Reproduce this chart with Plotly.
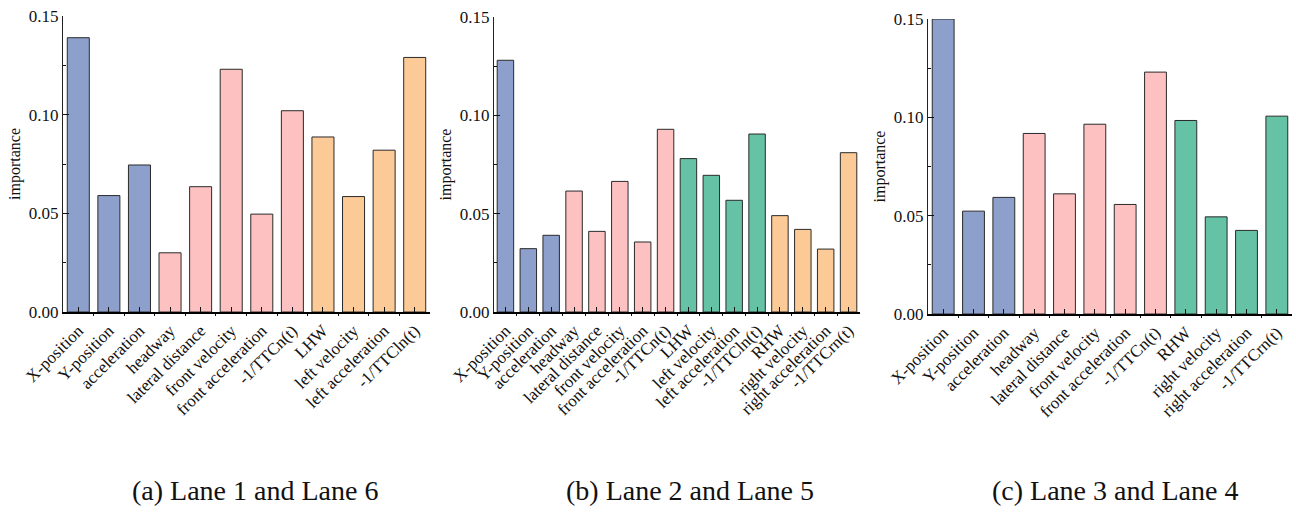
import plotly.graph_objects as go

# Feature names per lane group
features_a = ["X-position", "Y-position", "acceleration", "headway", "lateral distance",
              "front velocity", "front acceleration", "-1/TTCn(t)", "LHW", "left velocity",
              "left acceleration", "-1/TTCln(t)"]
features_b = ["X-position", "Y-position", "acceleration", "headway", "lateral distance",
              "front velocity", "front acceleration", "-1/TTCn(t)", "LHW", "left velocity",
              "left acceleration", "-1/TTCln(t)", "RHW", "right velocity",
              "right acceleration", "-1/TTCrn(t)"]
features_c = ["X-position", "Y-position", "acceleration", "headway", "lateral distance",
              "front velocity", "front acceleration", "-1/TTCn(t)", "RHW", "right velocity",
              "right acceleration", "-1/TTCrn(t)"]

# Feature importances
importance_a = [0.139, 0.059, 0.0745, 0.030, 0.0635, 0.123, 0.0496, 0.102,
                0.0887, 0.0585, 0.082, 0.129]
importance_b = [0.128, 0.0322, 0.039, 0.0615, 0.041, 0.0664, 0.0356, 0.0929,
                0.078, 0.0695, 0.0568, 0.0905, 0.049, 0.042, 0.032, 0.081]
importance_c = [0.150, 0.0523, 0.0593, 0.0918, 0.0611, 0.0965, 0.0557, 0.123,
                0.0984, 0.0494, 0.0425, 0.1006]

# Feature group of each bar (ego, front, left, right)
groups_a = ["ego"] * 3 + ["front"] * 5 + ["left"] * 4
groups_b = ["ego"] * 3 + ["front"] * 5 + ["side1"] * 4 + ["side2"] * 4
groups_c = ["ego"] * 3 + ["front"] * 5 + ["side1"] * 4

captions = ["(a) Lane 1 and Lane 6", "(b) Lane 2 and Lane 5", "(c) Lane 3 and Lane 4"]

palette_a = {"ego": "#8DA0CB", "front": "#FDC1C1", "left": "#FCCA96"}
palette_b = {"ego": "#8DA0CB", "front": "#FDC1C1", "side1": "#66C2A5", "side2": "#FCCA96"}
palette_c = {"ego": "#8DA0CB", "front": "#FDC1C1", "side1": "#66C2A5"}

SERIF = "Liberation Serif"

panels = [
    (features_a, importance_a, groups_a, palette_a, [63 / 1296, 430 / 1296], [16, 312]),
    (features_b, importance_b, groups_b, palette_b, [494 / 1296, 860 / 1296], [17, 312]),
    (features_c, importance_c, groups_c, palette_c, [928 / 1296, 1292 / 1296], [19, 314]),
]

H = 522
fig = go.Figure()
layout = {}
for i, (names, vals, grp, pal, xdom, ypix) in enumerate(panels):
    k = "" if i == 0 else str(i + 1)
    xs = list(range(len(names)))
    fig.add_trace(go.Bar(
        x=xs, y=vals, width=0.72,
        marker=dict(color=[pal[g] for g in grp], line=dict(color="#2a2a2a", width=1)),
        xaxis="x" + k, yaxis="y" + k, showlegend=False,
    ))
    ydom = [(H - ypix[1]) / H, (H - ypix[0]) / H]
    layout["xaxis" + k] = dict(
        domain=xdom, anchor="y" + k, range=[-0.5, len(names) - 0.5], automargin=False,
        tickmode="array", tickvals=xs, ticktext=names, tickangle=-45,
        ticks="inside", ticklen=5, tickwidth=1, tickcolor="#111",
        minor=dict(ticks="outside", ticklen=2, tick0=0.5, dtick=1, tickcolor="#111"),
        showline=True, linecolor="#000", linewidth=2, showgrid=False, zeroline=False,
        tickfont=dict(family=SERIF, size=17, color="#111"),
    )
    layout["yaxis" + k] = dict(
        domain=ydom, anchor="x" + k, range=[0, 0.15], automargin=False,
        tickvals=[0, 0.05, 0.10, 0.15], tickformat=".2f",
        ticks="inside", ticklen=6, tickwidth=1, tickcolor="#111",
        minor=dict(ticks="inside", ticklen=3, tickvals=[0.025, 0.075, 0.125], tickcolor="#111"),
        showline=True, linecolor="#222", linewidth=1, showgrid=False, zeroline=False,
        tickfont=dict(family=SERIF, size=17, color="#111"),
        title=dict(text="importance", font=dict(family=SERIF, size=16, color="#111"), standoff=4),
    )

annotations = []
for cap, cx in zip(captions, [255, 690, 1115]):
    annotations.append(dict(
        text=cap, x=cx / 1296, y=(H - 490) / H, xref="paper", yref="paper",
        showarrow=False, xanchor="center", yanchor="middle",
        font=dict(family=SERIF, size=28, color="#111"),
    ))

fig.update_layout(
    width=1296, height=522, margin=dict(l=0, r=0, t=0, b=0),
    paper_bgcolor="white", plot_bgcolor="white",
    annotations=annotations, bargap=0.28, **layout,
)

fig.write_html("out.html")
